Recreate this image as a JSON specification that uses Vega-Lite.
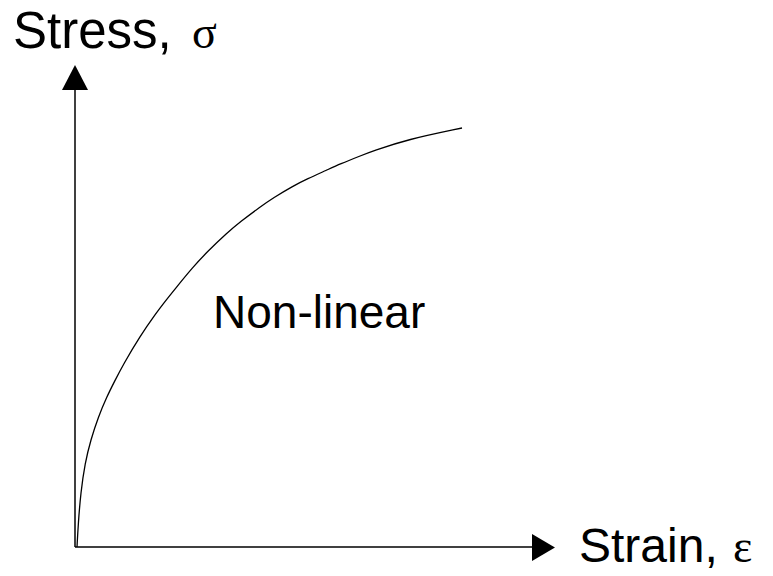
{
  "$schema": "https://vega.github.io/schema/vega-lite/v6.json",
  "width": 773,
  "height": 576,
  "autosize": {"type": "none"},
  "padding": 0,
  "background": "white",
  "config": {"view": {"stroke": null}},
  "datasets": {
    "curve": [
      {"strain": 0.04, "stress": 0.0},
      {"strain": 0.04, "stress": 0.0},
      {"strain": 0.066, "stress": 0.48},
      {"strain": 0.114, "stress": 1.08},
      {"strain": 0.20, "stress": 1.68},
      {"strain": 0.314, "stress": 2.14},
      {"strain": 0.466, "stress": 2.60},
      {"strain": 0.634, "stress": 3.00},
      {"strain": 0.80, "stress": 3.33},
      {"strain": 0.96, "stress": 3.64},
      {"strain": 1.30, "stress": 4.22},
      {"strain": 1.64, "stress": 4.70},
      {"strain": 1.76, "stress": 4.86},
      {"strain": 2.00, "stress": 5.16},
      {"strain": 2.36, "stress": 5.60},
      {"strain": 2.64, "stress": 5.90},
      {"strain": 3.04, "stress": 6.28},
      {"strain": 3.30, "stress": 6.50},
      {"strain": 3.70, "stress": 6.80},
      {"strain": 3.96, "stress": 6.98},
      {"strain": 4.36, "stress": 7.22},
      {"strain": 4.64, "stress": 7.36},
      {"strain": 5.04, "stress": 7.54},
      {"strain": 5.30, "stress": 7.66},
      {"strain": 5.70, "stress": 7.82},
      {"strain": 5.96, "stress": 7.92},
      {"strain": 6.64, "stress": 8.15},
      {"strain": 7.74, "stress": 8.38},
      {"strain": 7.74, "stress": 8.38}
    ],
    "axes": [
      {"x1": 0, "y1": 0, "x2": 0, "y2": 9.2},
      {"x1": 0, "y1": 0, "x2": 9.2, "y2": 0}
    ],
    "greek": [
      {"label": "σ", "x": 2.34, "y": 9.98},
      {"label": "ε", "x": 13.16, "y": -0.30}
    ]
  },
  "encoding": {},
  "layer": [
    {
      "data": {"name": "axes"},
      "mark": {"type": "rule", "color": "black", "strokeWidth": 1.5},
      "encoding": {
        "x": {"field": "x1", "type": "quantitative", "scale": {"domain": [-1.5, 13.96], "nice": false, "zero": false}, "axis": null},
        "y": {"field": "y1", "type": "quantitative", "scale": {"domain": [-0.58, 10.94], "nice": false, "zero": false}, "axis": null},
        "x2": {"field": "x2"},
        "y2": {"field": "y2"}
      }
    },
    {
      "data": {"values": [{"x": 0, "y": 9.39}]},
      "mark": {"type": "point", "filled": true, "color": "black", "opacity": 1, "shape": "M0,-0.96L1,0.96L-1,0.96Z", "size": 676},
      "encoding": {
        "x": {"field": "x", "type": "quantitative"},
        "y": {"field": "y", "type": "quantitative"}
      }
    },
    {
      "data": {"values": [{"x": 9.37, "y": -0.01}]},
      "mark": {"type": "point", "filled": true, "color": "black", "opacity": 1, "shape": "M0.85,0L-0.85,-1L-0.85,1Z", "size": 729},
      "encoding": {
        "x": {"field": "x", "type": "quantitative"},
        "y": {"field": "y", "type": "quantitative"}
      }
    },
    {
      "data": {"name": "curve"},
      "mark": {"type": "line", "color": "black", "strokeWidth": 1.3, "interpolate": "basis"},
      "encoding": {
        "x": {"field": "strain", "type": "quantitative"},
        "y": {"field": "stress", "type": "quantitative"}
      }
    },
    {
      "data": {"values": [{"label": "Stress,", "x": -1.24, "y": 9.98}]},
      "mark": {"type": "text", "align": "left", "baseline": "alphabetic", "font": "Liberation Sans", "fontSize": 51, "color": "black"},
      "encoding": {
        "x": {"field": "x", "type": "quantitative"},
        "y": {"field": "y", "type": "quantitative"},
        "text": {"field": "label"}
      }
    },
    {
      "data": {"values": [{"label": "Strain,", "x": 10.08, "y": -0.30}]},
      "mark": {"type": "text", "align": "left", "baseline": "alphabetic", "font": "Liberation Sans", "fontSize": 48, "color": "black"},
      "encoding": {
        "x": {"field": "x", "type": "quantitative"},
        "y": {"field": "y", "type": "quantitative"},
        "text": {"field": "label"}
      }
    },
    {
      "data": {"values": [{"label": "Non-linear", "x": 2.76, "y": 4.38}]},
      "mark": {"type": "text", "align": "left", "baseline": "alphabetic", "font": "Liberation Sans", "fontSize": 46, "color": "black"},
      "encoding": {
        "x": {"field": "x", "type": "quantitative"},
        "y": {"field": "y", "type": "quantitative"},
        "text": {"field": "label"}
      }
    },
    {
      "data": {"name": "greek"},
      "mark": {"type": "text", "align": "left", "baseline": "alphabetic", "font": "Liberation Serif", "fontSize": 46, "color": "black"},
      "encoding": {
        "x": {"field": "x", "type": "quantitative"},
        "y": {"field": "y", "type": "quantitative"},
        "text": {"field": "label"}
      }
    }
  ]
}
